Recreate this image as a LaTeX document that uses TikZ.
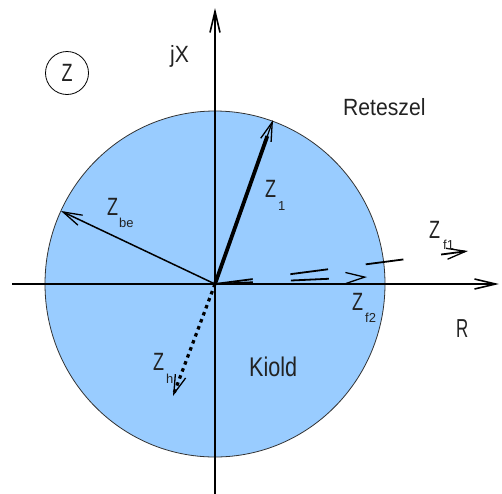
\documentclass[tikz,border=0pt]{standalone}
\usepackage{fontspec}
\setmainfont{Liberation Sans}
\usetikzlibrary{arrows.meta}
\definecolor{fillblue}{RGB}{153,204,255}
\definecolor{txt}{RGB}{34,34,34}
\newcommand{\sqtext}[3]{\scalebox{#2}[1]{\fontsize{#1}{#1}\selectfont #3}}
\newcommand{\bigZ}{\sqtext{25}{0.72}{Z}}
\newcommand{\subtxt}[1]{\fontsize{13}{13}\selectfont #1}
\begin{document}
\begin{tikzpicture}[x=1pt,y=-1pt,
  vtip/.style={-{Straight Barb[length=19pt,width=11pt,line width=1.3pt]}},
  axis/.style={line width=1.6pt,-{Straight Barb[length=21pt,width=10pt,line width=1.6pt]}},
  lbl/.style={anchor=base west,inner sep=0pt,text=txt},
]
\useasboundingbox (0,0) rectangle (502,493);
\coordinate (O) at (215,284);
% disc
\filldraw[fill=fillblue,draw=black!80,line width=0.8pt] (O) ellipse [x radius=170, y radius=173];
% axes
\coordinate (xs) at (12,284);
\coordinate (xe) at (499,284);
\coordinate (ys) at (215,494);
\coordinate (ye) at (215,8);
\draw[axis] (xs) -- (xe);
\draw[axis] (ys) -- (ye);
% vectors
\coordinate (z1) at (273,120);
\coordinate (zbe) at (61,211);
\coordinate (zh) at (173,396);
\coordinate (zf1) at (468,251);
\coordinate (zf2) at (367,277);
\draw[line width=3.8pt,shorten >=17pt] (O) -- (z1);
\draw[line width=1.2pt,vtip] (O) -- (z1);
\draw[line width=1.5pt,vtip] (O) -- (zbe);
\draw[line width=3.2pt,dash pattern=on 3.5pt off 4pt,vtip] (O) -- (zh);
\draw[line width=1.8pt,dash pattern=on 38pt off 38pt,vtip] (O) -- (zf1);
\draw[line width=1.8pt,dash pattern=on 38pt off 38pt,vtip] (O) -- (zf2);
% labels
\node[draw,circle,minimum size=43pt,inner sep=0pt,line width=0.8pt,text=txt] (zc) at (67,73) {\bigZ};
\node[lbl] (ljx) at (170,62) {\sqtext{23.5}{0.9}{jX}};
\node[lbl] (lret) at (343,115) {\sqtext{23.5}{0.9}{Reteszel}};
\node[lbl] (lkio) at (249,376) {\sqtext{27}{0.8}{Kiold}};
\node[lbl] (lr) at (456,337) {\sqtext{26}{0.65}{R}};
\node[lbl] (lz1) at (265,197) {\bigZ};
\node[lbl] (lz1s) at (278,210) {\subtxt{1}};
\node[lbl] (lzbe) at (107,215) {\bigZ};
\node[lbl] (lzbes) at (119,227) {\subtxt{be}};
\node[lbl] (lzh) at (153,370) {\bigZ};
\node[lbl] (lzhs) at (166,383) {\subtxt{h}};
\node[lbl] (lzf1) at (429,238) {\bigZ};
\node[lbl] (lzf1s) at (443,249) {\subtxt{f1}};
\node[lbl] (lzf2) at (352,310) {\bigZ};
\node[lbl] (lzf2s) at (365,322) {\subtxt{f2}};
\end{tikzpicture}
\end{document}
